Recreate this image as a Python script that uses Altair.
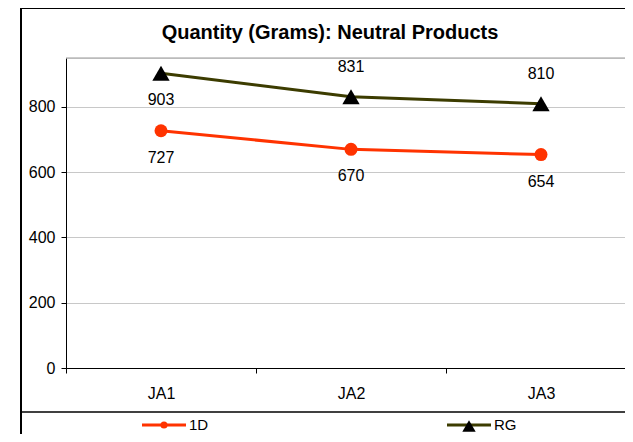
import altair as alt
import pandas as pd

categories = ["JA1", "JA2", "JA3"]
series_names = ["1D", "RG"]
values_1d = [727, 670, 654]
values_rg = [903, 831, 810]
y_ticks = [0, 200, 400, 600, 800]
title_text = "Quantity (Grams): Neutral Products"

rows = []
for i, (c, v) in enumerate(zip(categories, values_1d)):
    rows.append({"cat": c, "idx": i, "series": "1D", "value": v})
for i, (c, v) in enumerate(zip(categories, values_rg)):
    rows.append({"cat": c, "idx": i, "series": "RG", "value": v})
df = pd.DataFrame(rows)
legend_df = pd.DataFrame({"series": series_names, "li": list(range(len(series_names)))})

RED = "#FF3300"
OLIVE = "#3C3C00"
FONT = "Liberation Sans"

PLOT_W = 559
BAND = 190
cat_js = "[" + ",".join("'%s'" % c for c in categories) + "]"

x_enc = alt.X(
    "idx:Q",
    scale=alt.Scale(domain=[-0.5, -0.5 + PLOT_W / BAND], nice=False, zero=False),
    axis=alt.Axis(title=None, values=[i - 0.5 for i in range(len(categories))],
                  labelExpr=cat_js + "[round(datum.value + 0.5)]",
                  labelOffset=BAND / 2, labelFlush=False, labelOverlap=False, labelBound=False,
                  domainColor="black", tickColor="black", tickSize=5, labelFontSize=16,
                  labelPadding=12, labelColor="black", grid=False, labelFont=FONT),
)
y_enc = alt.Y(
    "value:Q",
    scale=alt.Scale(domain=[0, 950], nice=False),
    axis=alt.Axis(title=None, values=y_ticks, grid=True, gridColor="#c8c8c8",
                  domainColor="black", tickColor="black", tickSize=5,
                  labelFontSize=16, labelPadding=6, labelColor="black", labelFont=FONT),
)
color_scale = alt.Scale(domain=series_names, range=[RED, OLIVE])

base = alt.Chart(df)
one = alt.Chart(pd.DataFrame({"k": [0]}))

border = one.mark_rect(fillOpacity=0, stroke="black", strokeWidth=2).encode(
    x=alt.value(-45), x2=alt.value(900), y=alt.value(-50), y2=alt.value(700))
sep = one.mark_rule(color="black", strokeWidth=1.5).encode(
    x=alt.value(-45), x2=alt.value(900), y=alt.value(354))
top_line = one.mark_rule(color="#999999", strokeWidth=1).encode(
    x=alt.value(0), x2=alt.value(600), y=alt.value(0))
title = one.mark_text(text=title_text, font=FONT, fontSize=20, fontWeight="bold",
                      color="black", align="center", baseline="middle").encode(
    x=alt.value(264), y=alt.value(-25))

lines = base.mark_line(strokeWidth=3).encode(
    x=x_enc, y=y_enc,
    color=alt.Color("series:N", scale=color_scale, legend=None),
)
circles = base.transform_filter("datum.series == '1D'").mark_point(
    shape="circle", filled=True, size=169, color=RED, opacity=1).encode(x=x_enc, y=y_enc)
tris = base.transform_filter("datum.series == 'RG'").mark_point(
    shape="triangle-up", filled=True, size=300, color="black", opacity=1).encode(x=x_enc, y=y_enc)

labels_below = base.transform_filter("datum.series == '1D' || datum.cat == 'JA1'").mark_text(
    dy=27, fontSize=16, color="black", font=FONT).encode(x=x_enc, y=y_enc, text="value:Q")
labels_above = base.transform_filter("datum.series == 'RG' && datum.cat != 'JA1'").mark_text(
    dy=-30, fontSize=16, color="black", font=FONT).encode(x=x_enc, y=y_enc, text="value:Q")

# legend (below the plot, inside the bordered legend strip)
LEG_X0, LEG_STEP, LEG_Y, SYM_W = 76, 305, 367, 44
leg = alt.Chart(legend_df).transform_calculate(
    lx0=f"{LEG_X0} + datum.li * {LEG_STEP}",
    lx1=f"{LEG_X0} + datum.li * {LEG_STEP} + {SYM_W}",
    lxm=f"{LEG_X0} + datum.li * {LEG_STEP} + {SYM_W / 2}",
    lxt=f"{LEG_X0} + datum.li * {LEG_STEP} + {SYM_W + 3}",
)
leg_lines = leg.mark_rule(strokeWidth=3).encode(
    x=alt.X("lx0:Q", scale=None), x2="lx1:Q", y=alt.value(LEG_Y),
    color=alt.Color("series:N", scale=color_scale, legend=None))
leg_circle = leg.transform_filter("datum.series == '1D'").mark_point(
    shape="circle", filled=True, size=50, color=RED, opacity=1).encode(
    x=alt.X("lxm:Q", scale=None), y=alt.value(LEG_Y))
leg_tri = leg.transform_filter("datum.series == 'RG'").mark_point(
    shape="triangle-up", filled=True, size=180, color="black", opacity=1).encode(
    x=alt.X("lxm:Q", scale=None), y=alt.value(LEG_Y + 1))
leg_text = leg.mark_text(align="left", baseline="middle", fontSize=15, font=FONT,
                         color="black").encode(
    x=alt.X("lxt:Q", scale=None), y=alt.value(LEG_Y), text="series:N")

chart = alt.layer(
    border, top_line, title, lines, circles, tris, labels_below, labels_above, sep,
    leg_lines, leg_circle, leg_tri, leg_text
).properties(
    width=PLOT_W, height=310,
    autosize=alt.AutoSizeParams(type="none"),
    padding={"left": 58, "top": 50, "right": 0, "bottom": 66},
).configure_view(stroke=None).configure(font=FONT)

chart.save("out.html", embed_options={"renderer": "svg", "actions": False})
